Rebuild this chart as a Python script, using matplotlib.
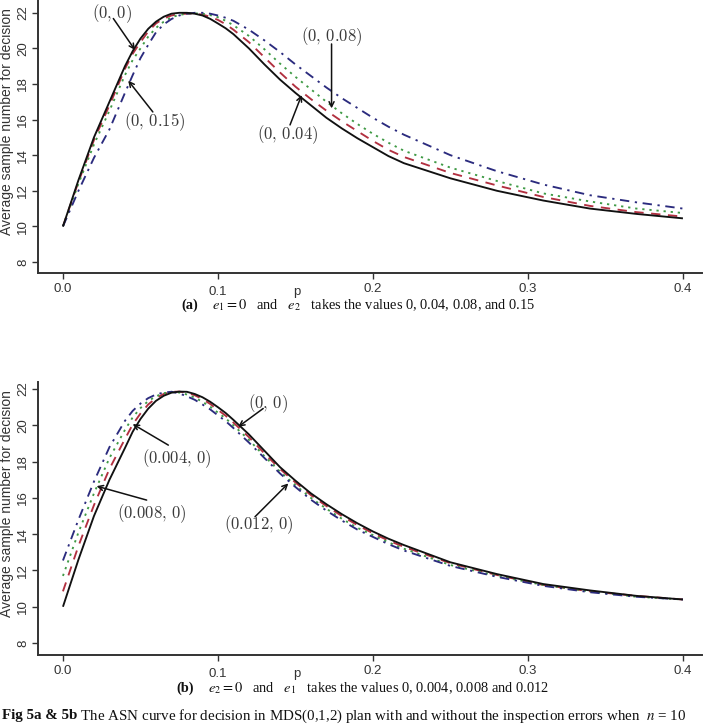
import matplotlib
matplotlib.use("Agg")
import matplotlib.pyplot as plt

# ---------------- data ----------------
p = [0.00, 0.01, 0.02, 0.03, 0.04,
     0.045, 0.05, 0.055, 0.06, 0.065, 0.07, 0.075, 0.08, 0.085, 0.09, 0.095, 0.10, 0.105,
     0.11, 0.12, 0.13, 0.14, 0.15, 0.16, 0.17, 0.18, 0.19, 0.20, 0.21, 0.22,
     0.25, 0.28, 0.31, 0.34, 0.37, 0.40]

# panel (a): e1 = 0, e2 = 0, 0.04, 0.08, 0.15
a_0_0 = [10.0, 12.6, 15.0, 17.0, 19.0,
         19.85, 20.55, 21.1, 21.5, 21.78, 21.95, 22.0, 22.0, 21.95, 21.85, 21.66, 21.4, 21.13,
         20.8, 20.0, 19.1, 18.25, 17.5, 16.8, 16.1, 15.5, 14.95, 14.45, 13.95, 13.55,
         12.7, 12.0, 11.45, 11.0, 10.7, 10.45]
a_0_004 = [10.0, 12.5, 14.85, 16.8, 18.85,
           19.7, 20.35, 20.95, 21.4, 21.68, 21.85, 21.93, 21.95, 21.96, 21.9, 21.78, 21.6, 21.36,
           21.05, 20.35, 19.5, 18.65, 17.85, 17.15, 16.5, 15.9, 15.35, 14.8, 14.3, 13.9,
           13.0, 12.3, 11.65, 11.15, 10.8, 10.55]
a_0_008 = [10.0, 12.4, 14.6, 16.5, 18.5,
           19.35, 20.0, 20.66, 21.15, 21.5, 21.75, 21.88, 21.95, 21.97, 21.95, 21.87, 21.75, 21.55,
           21.3, 20.7, 19.95, 19.15, 18.4, 17.7, 17.0, 16.35, 15.75, 15.2, 14.7, 14.25,
           13.3, 12.55, 11.85, 11.4, 11.0, 10.75]
a_0_015 = [10.0, 12.0, 13.85, 15.45, 17.5,
           18.5, 19.45, 20.2, 20.9, 21.35, 21.65, 21.85, 21.95, 22.0, 22.0, 21.95, 21.85, 21.72,
           21.55, 21.05, 20.45, 19.8, 19.1, 18.45, 17.8, 17.2, 16.65, 16.1, 15.6, 15.15,
           14.0, 13.1, 12.35, 11.75, 11.35, 11.0]

# panel (b): e2 = 0, e1 = 0, 0.004, 0.008, 0.012
b_0_0 = [10.0, 12.6, 15.0, 17.0, 18.75,
         19.65, 20.35, 20.92, 21.35, 21.63, 21.8, 21.86, 21.85, 21.73, 21.55, 21.3, 21.0, 20.68,
         20.3, 19.5, 18.6, 17.7, 16.95, 16.25, 15.65, 15.1, 14.6, 14.15, 13.75, 13.4,
         12.45, 11.8, 11.25, 10.9, 10.6, 10.4]
b_0004_0 = [10.85, 13.35, 15.6, 17.6, 19.25,
            20.05, 20.65, 21.15, 21.5, 21.73, 21.85, 21.86, 21.8, 21.66, 21.45, 21.18, 20.85, 20.53,
            20.15, 19.35, 18.45, 17.6, 16.85, 16.15, 15.55, 15.0, 14.5, 14.05, 13.65, 13.3,
            12.4, 11.75, 11.2, 10.85, 10.6, 10.4]
b_0008_0 = [11.7, 14.1, 16.25, 18.2, 19.75,
            20.44, 20.95, 21.34, 21.6, 21.77, 21.85, 21.81, 21.7, 21.53, 21.3, 21.03, 20.7, 20.38,
            20.0, 19.2, 18.3, 17.45, 16.7, 16.0, 15.4, 14.85, 14.35, 13.95, 13.55, 13.2,
            12.3, 11.7, 11.2, 10.85, 10.55, 10.4]
b_0012_0 = [12.55, 14.8, 16.9, 18.8, 20.25,
            20.8, 21.2, 21.5, 21.7, 21.81, 21.85, 21.76, 21.6, 21.41, 21.15, 20.88, 20.55, 20.23,
            19.85, 19.05, 18.2, 17.35, 16.6, 15.9, 15.3, 14.75, 14.25, 13.85, 13.45, 13.1,
            12.25, 11.65, 11.15, 10.8, 10.55, 10.4]

x_ticks = [0.0, 0.1, 0.2, 0.3, 0.4]
x_ticklabels = ["0.0", "0.1", "0.2", "0.3", "0.4"]
y_ticks = [8, 10, 12, 14, 16, 18, 20, 22]
y_label = "Average sample number for decision"
x_label = "p"

a_labels = ["(0,0)", "(0,0.04)", "(0,0.08)", "(0,0.15)"]
b_labels = ["(0,0)", "(0.004,0)", "(0.008,0)", "(0.012,0)"]

cap_a = [("(a)", "bold"), (r"    $e_1 = 0$   and   $e_2$   takes the values 0, 0.04, 0.08, and 0.15", "normal")]
cap_b = [("(b)", "bold"), (r"    $e_2 = 0$   and   $e_1$   takes the values 0, 0.004, 0.008 and 0.012", "normal")]
cap_fig = [("Fig 5a & 5b", "bold"),
           (r" The ASN curve for decision in MDS(0,1,2) plan with and without the inspection errors when  $n$ = 10", "normal")]

# ---------------- styles ----------------
colors = ["#111111", "#b23040", "#3f9a45", "#2b2b7e"]
dashes = [None, (5, 4), (1.2, 2.6), (5, 3, 1.2, 3)]
AX = "#333333"
TXT = "#3a3a3a"

fig = plt.figure(figsize=(7.08, 7.26), dpi=100)
W, H = 708, 726


def make_ax(top_px, bottom_px, ylo, yhi):
    ax = fig.add_axes([38 / W, (H - bottom_px) / H, 664 / W, (bottom_px - top_px) / H])
    ax.set_xlim(-0.0161, 0.4123)
    ax.set_ylim(ylo, yhi)
    for s in ("top", "right"):
        ax.spines[s].set_visible(False)
    for s in ("left", "bottom"):
        ax.spines[s].set_color(AX)
        ax.spines[s].set_linewidth(1.4)
    ax.set_xticks(x_ticks)
    ax.set_xticklabels(x_ticklabels, family="Liberation Sans", fontsize=9.5, color=AX)
    ax.set_yticks(y_ticks)
    ax.set_yticklabels([str(v) for v in y_ticks], family="Liberation Sans",
                       fontsize=9.5, color=AX, rotation=90, va="center")
    ax.tick_params(axis="both", direction="out", length=4.5, width=1.0, color=AX, pad=2.5)
    ax.tick_params(axis="y", pad=2)
    ax.get_xticklabels()[1].set_y(-0.012)
    ax.annotate(x_label, xy=(0.151, 0), xycoords=("data", "axes fraction"),
                xytext=(0, -9), textcoords="offset points",
                ha="center", va="top", family="Liberation Sans", fontsize=9.5, color=AX,
                annotation_clip=False)
    ax.text(-0.046, 0.555, y_label, transform=ax.transAxes, rotation=90,
            ha="center", va="center", family="Liberation Sans", fontsize=10, color=AX)
    return ax


def draw_curves(ax, series):
    for ys, c, d in zip(series, colors, dashes):
        ln, = ax.plot(p, ys, color=c, lw=1.35, solid_capstyle="butt", solid_joinstyle="round")
        if d is not None:
            ln.set_dashes(d)
            ln.set_dash_capstyle("butt")
    ax.lines[0].set_zorder(5)


def annot(ax, label, tip, start, textpos):
    ax.annotate("", xy=tip, xytext=start,
                arrowprops=dict(arrowstyle="->", color="#111111", lw=1.1,
                                shrinkA=0, shrinkB=0, mutation_scale=9))
    num = label.strip("()").split(",")
    ax.text(textpos[0], textpos[1], r"$(" + num[0] + r",\," + num[1] + r")$",
            ha="center", va="center", fontsize=12, color=TXT, math_fontfamily="cm")


def caption(parts, x_px, y_px, size, align="center"):
    texts = []
    for s, wt in parts:
        t = fig.text(0, 1 - y_px / H, s, ha="left", va="center", family="Liberation Serif",
                     fontsize=size, fontweight=wt, math_fontfamily="stix", color="#111111")
        texts.append(t)
    r = fig.canvas.get_renderer()
    widths = [t.get_window_extent(renderer=r).width for t in texts]
    total = sum(widths)
    x = x_px - total / 2 if align == "center" else x_px
    for t, w in zip(texts, widths):
        t.set_x(x / W)
        x += w


# ---------------- panel (a) ----------------
ax1 = make_ax(0, 273, 7.38, 22.72)
draw_curves(ax1, [a_0_0, a_0_004, a_0_008, a_0_015])
annot(ax1, a_labels[0], (0.0465, 19.91), (0.0325, 21.68), (0.0316, 21.93))
annot(ax1, a_labels[3], (0.0421, 18.19), (0.058, 16.43), (0.0594, 15.87))
annot(ax1, a_labels[2], (0.1733, 16.63), (0.1733, 20.25), (0.1733, 20.66))
annot(ax1, a_labels[1], (0.154, 17.38), (0.1465, 15.7), (0.1452, 15.13))

# ---------------- panel (b) ----------------
ax2 = make_ax(382, 655, 7.34, 22.39)
draw_curves(ax2, [b_0_0, b_0004_0, b_0008_0, b_0012_0])
annot(ax2, b_labels[0], (0.1131, 19.92), (0.1292, 20.93), (0.1323, 21.2))
annot(ax2, b_labels[1], (0.045, 20.07), (0.068, 18.91), (0.0734, 18.17))
annot(ax2, b_labels[2], (0.0217, 16.65), (0.054, 15.88), (0.0574, 15.13))
annot(ax2, b_labels[3], (0.1454, 16.8), (0.1239, 14.96), (0.1261, 14.53))

# ---------------- captions ----------------
caption(cap_a, 358, 305, 10.4)
caption(cap_b, 363, 688, 10.4)
caption(cap_fig, 2, 716, 10.8, align="left")

fig.savefig("out.png", dpi=100)
